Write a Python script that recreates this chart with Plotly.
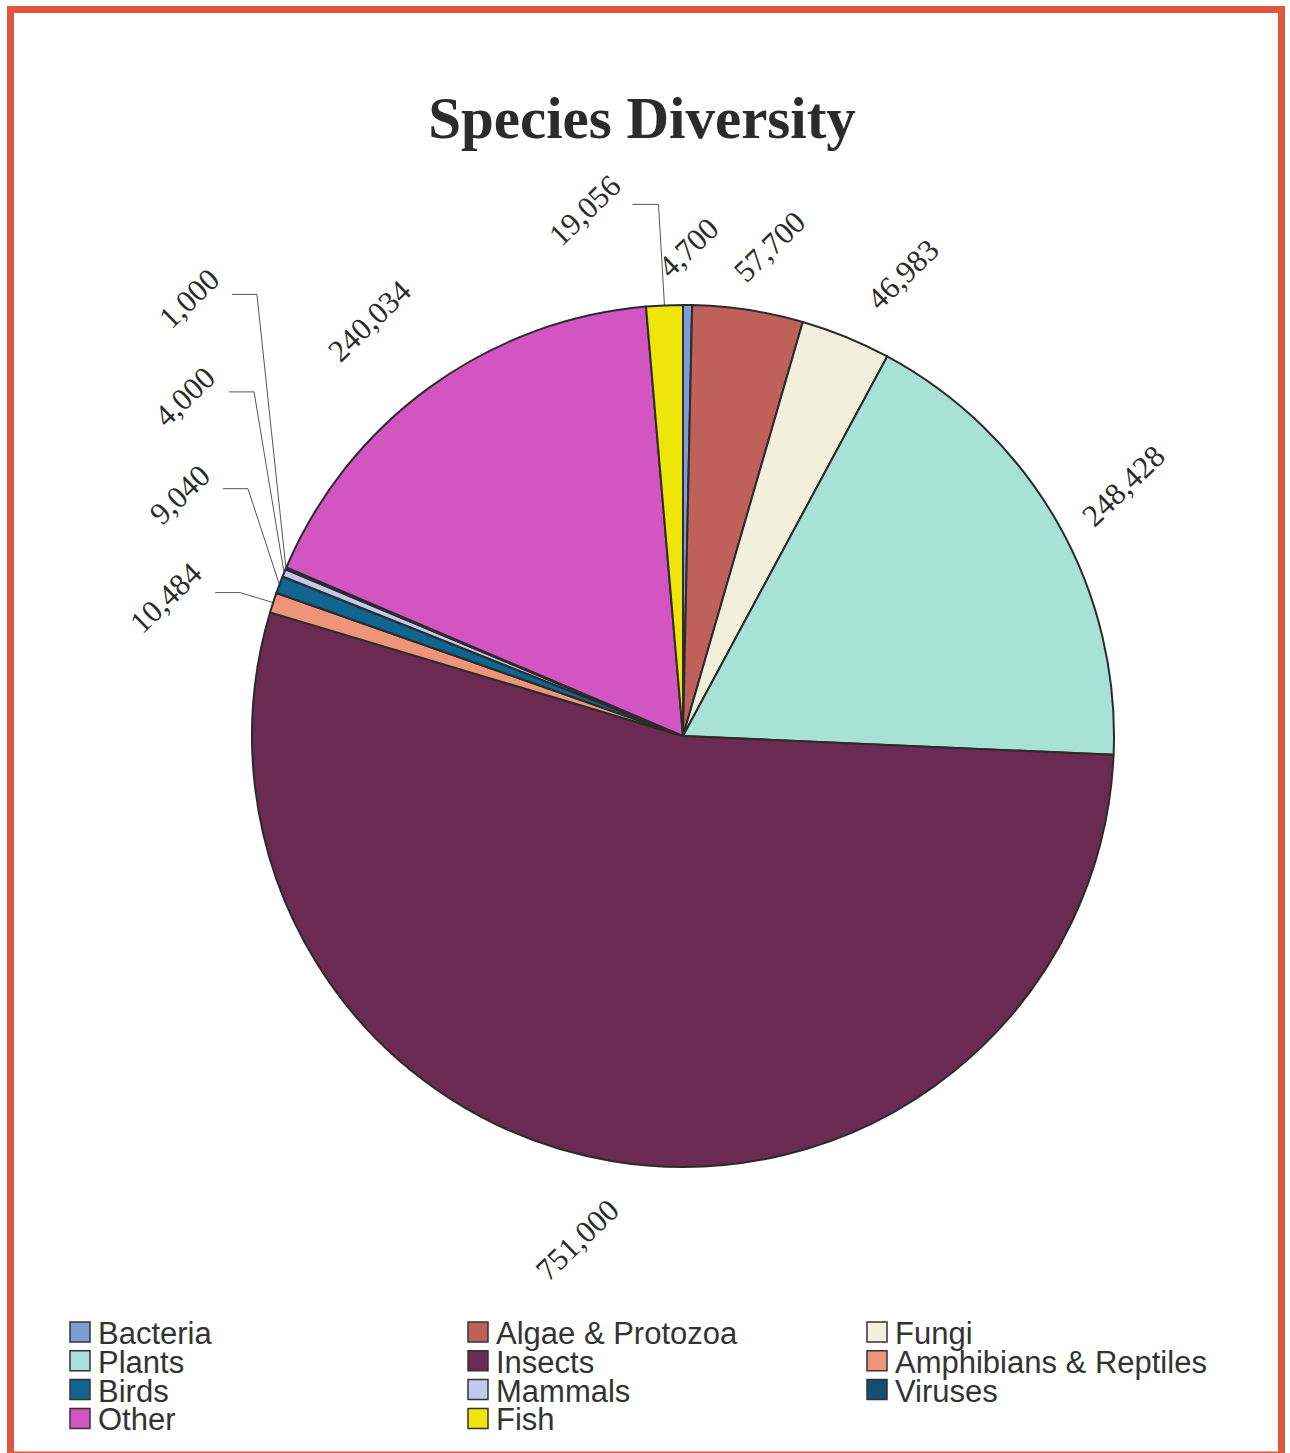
import math
import plotly.graph_objects as go

# ---------------- data ----------------
categories = ["Bacteria", "Algae & Protozoa", "Fungi", "Plants", "Insects",
              "Amphibians & Reptiles", "Birds", "Mammals", "Viruses", "Other", "Fish"]
species_counts = [4700, 57700, 46983, 248428, 751000, 10484, 9040, 4000, 1000, 240034, 19056]

# ---------------- style ----------------
colors = ["#7E9CD6", "#C0605A", "#F2F0DC", "#A8E2D6", "#6A2A52",
          "#EE9478", "#0E6590", "#C4C8EE", "#154E72", "#D255C2", "#EEE60A"]

W, H = 1290, 1453
CX, CY, R = 683, 736, 431          # pie centre / radius (pixels)
INK = "#2b2b2b"

# label placement style: ("radial", gap, dx, dy) or ("leader", elbow_dx, elbow_dy, hlen, tdx, tdy)
label_style = [
    ("radial", 58, 0, 0),
    ("radial", 64, 12, 0),
    ("radial", 68, 31, 0),
    ("radial", 76, 0, 0),
    ("radial", 80, -20, 0),
    ("leader", -33, -10, 25, -49, 5),
    ("leader", -31.5, -96, 25, -43, 6),
    ("leader", -30, -181, 25, -44, 5),
    ("leader", -29, -274, 25, -43, 4),
    ("radial", 82, -12, 0),
    ("leader", -6, -101, 26, -48, 6),
]


def pxx(x):
    return x / W


def pyy(y):
    return 1 - y / H


fig = go.Figure(go.Pie(
    labels=categories,
    values=species_counts,
    sort=False,
    direction="clockwise",
    rotation=0,
    marker=dict(colors=colors, line=dict(color=INK, width=2)),
    textinfo="none",
    hoverinfo="label+value",
    showlegend=False,
    domain=dict(x=[pxx(CX - R), pxx(CX + R)], y=[pyy(CY + R), pyy(CY - R)]),
))

total = sum(species_counts)
annotations = []
shapes = []
cum = 0.0
for i, v in enumerate(species_counts):
    mid = (cum + v / 2) / total * 2 * math.pi
    cum += v
    ux, uy = math.sin(mid), -math.cos(mid)
    txt = f"{v:,}"
    st = label_style[i]
    if st[0] == "radial":
        _, gap, dx, dy = st
        lx = CX + (R + gap) * ux + dx
        ly = CY + (R + gap) * uy + dy
    else:
        _, edx, edy, hlen, tdx, tdy = st
        ex, ey = CX + R * ux, CY + R * uy
        bx, by = ex + edx, ey + edy
        hx = bx - hlen
        shapes.append(dict(type="path", xref="paper", yref="paper",
                           path=f"M {pxx(ex)},{pyy(ey)} L {pxx(bx)},{pyy(by)} L {pxx(hx)},{pyy(by)}",
                           line=dict(color="#555555", width=1)))
        lx, ly = hx + tdx, by + tdy
    annotations.append(dict(x=pxx(lx), y=pyy(ly), xref="paper", yref="paper",
                            text=txt, showarrow=False, textangle=-44,
                            xanchor="center", yanchor="middle",
                            font=dict(family="Liberation Serif", size=31, color=INK)))

# legend (3 columns, swatches + one text block per column)
col_x = [70, 468, 867]
row_y0, row_dy = 1332, 28.8
for i, col in enumerate(colors):
    r, c = divmod(i, 3)
    x0 = col_x[c]
    yc = row_y0 + r * row_dy
    shapes.append(dict(type="rect", xref="paper", yref="paper",
                       x0=pxx(x0), x1=pxx(x0 + 20), y0=pyy(yc + 10), y1=pyy(yc - 10),
                       fillcolor=col, line=dict(color="#333333", width=1.5)))
for c in range(3):
    names = categories[c::3]
    block = "<br>".join(f'<span style="font-size:31px">{n}</span>' for n in names)
    annotations.append(dict(x=pxx(col_x[c] + 26), y=pyy(1314), xref="paper", yref="paper",
                            text=block, showarrow=False, xanchor="left", yanchor="top",
                            align="left",
                            font=dict(family="Liberation Sans", size=row_dy / 1.3, color="#333333")))

# outer frame
shapes.append(dict(type="rect", xref="paper", yref="paper",
                   x0=pxx(10.5), x1=pxx(1281.5), y0=pyy(1455), y1=pyy(9.5),
                   line=dict(color="#E0553E", width=7), fillcolor="rgba(0,0,0,0)"))

fig.update_layout(
    width=W, height=H,
    margin=dict(l=0, r=0, t=0, b=0),
    paper_bgcolor="white",
    plot_bgcolor="white",
    title=dict(text="<b>Species Diversity</b>", x=642 / W, xanchor="center",
               y=pyy(117), yanchor="middle",
               font=dict(family="Liberation Serif", size=59, color=INK)),
    annotations=annotations,
    shapes=shapes,
)

fig.write_html("out.html")
